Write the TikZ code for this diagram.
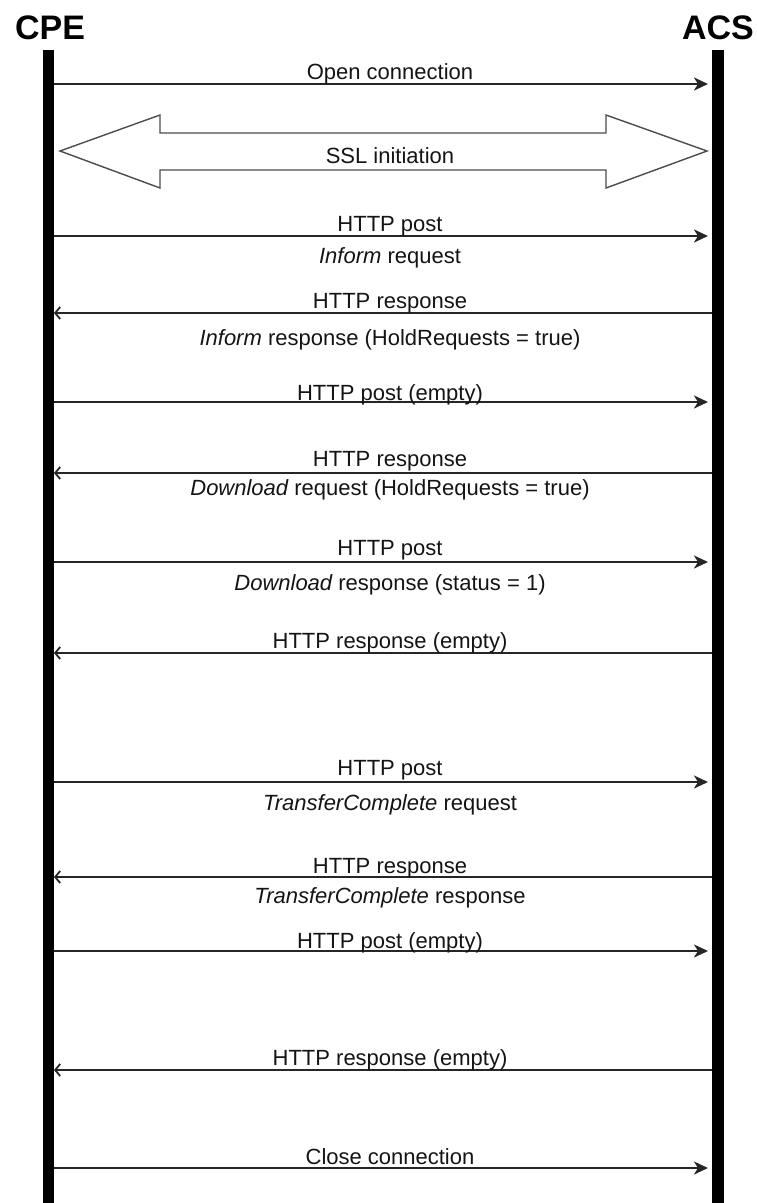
\documentclass[tikz,border=0pt]{standalone}
\usepackage{fontspec}
\setmainfont{Liberation Sans}
\usetikzlibrary{arrows.meta}
\tikzset{
  life/.style={line width=11.5pt, black},
  msgR/.style={line width=2pt, draw=black!85, -{Stealth[length=14pt,width=13pt,inset=4pt]}},
  msgL/.style={line width=2pt, draw=black!85, -{Straight Barb[length=5pt,width=12pt,line width=1.8pt]}},
  lbl/.style={font=\fontsize{22}{24}\selectfont, text=black!92, inner sep=0pt, anchor=base},
  party/.style={font=\fontsize{34}{36}\selectfont\bfseries, inner sep=0pt, anchor=base},
  ssl/.style={line width=1.4pt, draw=black!70, fill=white, line join=miter}
}
\begin{document}
\begin{tikzpicture}[x=1pt,y=-1pt]
\useasboundingbox (0,0) rectangle (756,1203);
% parties
\node[party] (cpe) at (50,39) {CPE};
\node[party] (acs) at (718,39) {ACS};
% lifelines
\coordinate (cpeTop) at (48.5,50);
\coordinate (cpeBot) at (48.5,1203);
\coordinate (acsTop) at (718,50);
\coordinate (acsBot) at (718,1203);
\draw[life] (cpeTop) -- (cpeBot);
\draw[life] (acsTop) -- (acsBot);

% 1 open connection
\coordinate (a1) at (54,84); \coordinate (b1) at (708,84);
\draw[msgR] (a1) -- (b1);
\node[lbl] (t1) at (390,79) {Open connection};

% SSL initiation double arrow
\draw[ssl] (60,151) -- (160,115) -- (160,133) -- (606,133) -- (606,115) -- (707,151)
  -- (606,188) -- (606,170) -- (160,170) -- (160,188) -- cycle;
\node[lbl] (tssl) at (390,163) {SSL initiation};

% 2 HTTP post / Inform request
\coordinate (a2) at (54,236); \coordinate (b2) at (708,236);
\draw[msgR] (a2) -- (b2);
\node[lbl] (t2) at (390,231) {HTTP post};
\node[lbl] (u2) at (390,263) {\itshape Inform\upshape{} request};

% 3 HTTP response / Inform response
\coordinate (a3) at (712,313); \coordinate (b3) at (54,313);
\draw[msgL] (a3) -- (b3);
\node[lbl] (t3) at (390,308) {HTTP response};
\node[lbl] (u3) at (390,345) {\itshape Inform\upshape{} response (HoldRequests = true)};

% 4 HTTP post (empty)
\coordinate (a4) at (54,402); \coordinate (b4) at (708,402);
\draw[msgR] (a4) -- (b4);
\node[lbl] (t4) at (390,400) {HTTP post (empty)};

% 5 HTTP response / Download request
\coordinate (a5) at (712,473); \coordinate (b5) at (54,473);
\draw[msgL] (a5) -- (b5);
\node[lbl] (t5) at (390,466) {HTTP response};
\node[lbl] (u5) at (390,495) {\itshape Download\upshape{} request (HoldRequests = true)};

% 6 HTTP post / Download response
\coordinate (a6) at (54,562); \coordinate (b6) at (708,562);
\draw[msgR] (a6) -- (b6);
\node[lbl] (t6) at (390,555) {HTTP post};
\node[lbl] (u6) at (390,590) {\itshape Download\upshape{} response (status = 1)};

% 7 HTTP response (empty)
\coordinate (a7) at (712,653); \coordinate (b7) at (54,653);
\draw[msgL] (a7) -- (b7);
\node[lbl] (t7) at (390,648) {HTTP response (empty)};

% 8 HTTP post / TransferComplete request
\coordinate (a8) at (54,782); \coordinate (b8) at (708,782);
\draw[msgR] (a8) -- (b8);
\node[lbl] (t8) at (390,775) {HTTP post};
\node[lbl] (u8) at (390,810) {\itshape TransferComplete\upshape{} request};

% 9 HTTP response / TransferComplete response
\coordinate (a9) at (712,877); \coordinate (b9) at (54,877);
\draw[msgL] (a9) -- (b9);
\node[lbl] (t9) at (390,873) {HTTP response};
\node[lbl] (u9) at (390,903) {\itshape TransferComplete\upshape{} response};

% 10 HTTP post (empty)
\coordinate (a10) at (54,951); \coordinate (b10) at (708,951);
\draw[msgR] (a10) -- (b10);
\node[lbl] (t10) at (390,948) {HTTP post (empty)};

% 11 HTTP response (empty)
\coordinate (a11) at (712,1070); \coordinate (b11) at (54,1070);
\draw[msgL] (a11) -- (b11);
\node[lbl] (t11) at (390,1065) {HTTP response (empty)};

% 12 Close connection
\coordinate (a12) at (54,1168); \coordinate (b12) at (708,1168);
\draw[msgR] (a12) -- (b12);
\node[lbl] (t12) at (390,1164) {Close connection};
\end{tikzpicture}
\end{document}
